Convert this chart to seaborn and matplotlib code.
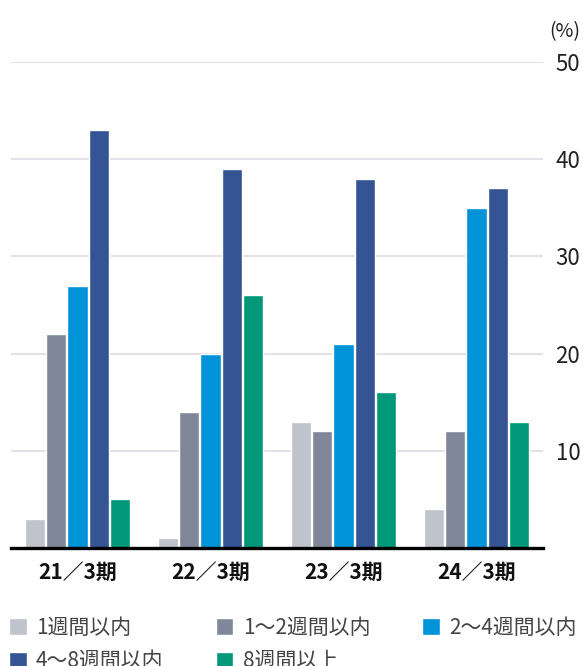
import matplotlib
matplotlib.use("Agg")
import matplotlib.pyplot as plt
import seaborn as sns
import pandas as pd

categories = ["21／3期", "22／3期", "23／3期", "24／3期"]
series_names = ["1週間以内", "1〜2週間以内", "2〜4週間以内", "4〜8週間以内", "8週間以上"]
within_1w = [3, 1, 13, 4]
w1_2 = [22, 14, 12, 12]
w2_4 = [27, 20, 21, 35]
w4_8 = [43, 39, 38, 37]
over_8w = [5, 26, 16, 13]
yticks = [10, 20, 30, 40, 50]
colors = ["#BFC3CC", "#7F8799", "#0093D8", "#345494", "#009879"]

values = [within_1w, w1_2, w2_4, w4_8, over_8w]
rows = []
for name, vals in zip(series_names, values):
    for cat, v in zip(categories, vals):
        rows.append({"period": cat, "series": name, "value": v})
df = pd.DataFrame(rows)

sns.set_style("white")
plt.rcParams["font.family"] = ["Noto Sans CJK JP", "DejaVu Sans"]

fig = plt.figure(figsize=(5.83, 6.66), dpi=100)
ax = fig.add_axes([11 / 583, 1 - 548 / 666, (543 - 11) / 583, (548 - 62) / 666])

sns.barplot(data=df, x="period", y="value", hue="series", order=categories,
            hue_order=series_names, palette=colors, width=0.8, gap=0.05,
            saturation=1, ax=ax, legend=True)

ax.set_ylim(0, 50)
ax.set_xlim(-0.5, 3.5)
ax.set_yticks(yticks)
ax.yaxis.tick_right()
ax.tick_params(axis="y", length=0, pad=9, labelsize=16, labelcolor="#222222")
ax.tick_params(axis="x", length=0, pad=10, labelsize=15, labelcolor="#111111")
for lab in ax.get_xticklabels():
    lab.set_fontweight("bold")
ax.set_xlabel("")
ax.set_ylabel("")
ax.grid(axis="y", color="#E1E3E9", linewidth=1.5)
ax.set_axisbelow(True)
for s in ["top", "left", "right"]:
    ax.spines[s].set_visible(False)
ax.spines["bottom"].set_color("black")
ax.spines["bottom"].set_linewidth(2.4)

fig.text(580 / 583, 1 - 32 / 666, "(%)", ha="right", va="center",
         fontsize=14, color="#222222")

handles, labels = ax.get_legend_handles_labels()
ax.get_legend().remove()
order = [0, 3, 1, 4, 2]
fig.legend([handles[i] for i in order], [labels[i] for i in order],
           ncol=3, loc="upper left",
           bbox_to_anchor=(9 / 583, 1 - 617 / 666), frameon=False,
           fontsize=15, handlelength=0.85, handleheight=0.9,
           handletextpad=0.45, columnspacing=2.5, labelspacing=0.55,
           borderpad=0, borderaxespad=0, labelcolor="#444444")

fig.savefig("out.png", dpi=100)
